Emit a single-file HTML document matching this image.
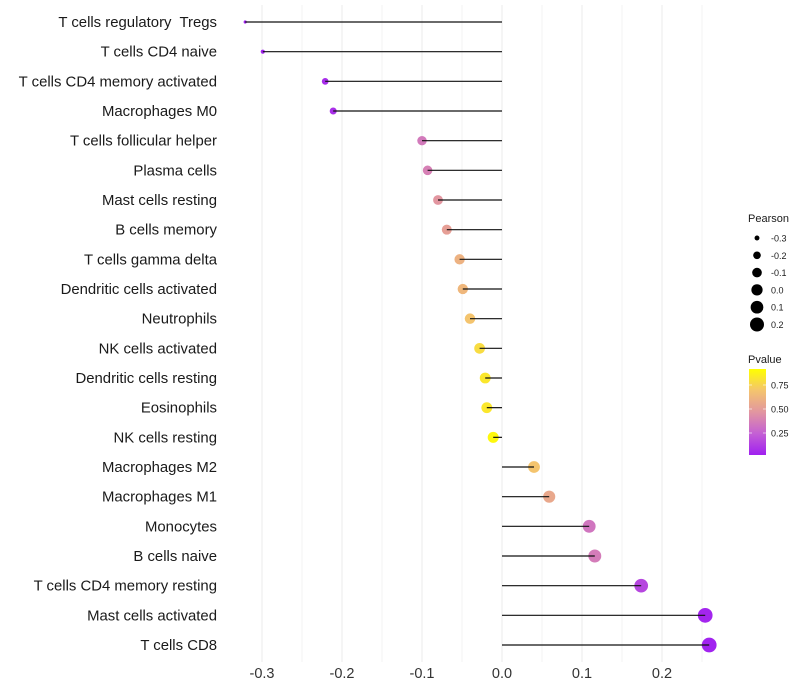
<!DOCTYPE html>
<html><head><meta charset="utf-8"><style>
body{margin:0;background:#fff;}
svg{display:block;font-family:"Liberation Sans",sans-serif;}
text{white-space:pre;}
</style></head><body>
<svg id="chart" width="800" height="700"></svg>
<script>
const categories=["T cells regulatory  Tregs","T cells CD4 naive","T cells CD4 memory activated","Macrophages M0","T cells follicular helper","Plasma cells","Mast cells resting","B cells memory","T cells gamma delta","Dendritic cells activated","Neutrophils","NK cells activated","Dendritic cells resting","Eosinophils","NK cells resting","Macrophages M2","Macrophages M1","Monocytes","B cells naive","T cells CD4 memory resting","Mast cells activated","T cells CD8"];
const pearson=[-0.321,-0.299,-0.221,-0.211,-0.100,-0.093,-0.080,-0.069,-0.053,-0.049,-0.040,-0.028,-0.021,-0.019,-0.011,0.040,0.059,0.109,0.116,0.174,0.254,0.259];
const pvalue=[0.0,0.01,0.05,0.06,0.37,0.40,0.50,0.55,0.65,0.68,0.75,0.85,0.90,0.90,0.97,0.75,0.60,0.35,0.38,0.15,0.02,0.01];
const xTicks=[-0.3,-0.2,-0.1,0.0,0.1,0.2];
const xTickLabels=["-0.3","-0.2","-0.1","0.0","0.1","0.2"];
const sizeLegendVals=[-0.3,-0.2,-0.1,0.0,0.1,0.2];
const sizeLegendLabels=["-0.3","-0.2","-0.1","0.0","0.1","0.2"];
const pTicks=[0.25,0.5,0.75];
const pTickLabels=["0.25","0.50","0.75"];

const NS="http://www.w3.org/2000/svg";
const svg=document.getElementById('chart');
function mk(tag,attrs,parent){const e=document.createElementNS(NS,tag);for(const k in attrs)e.setAttribute(k,attrs[k]);(parent||svg).appendChild(e);return e;}
const x=v=>502+v*800;
const y=i=>22+i*(623/21);
const r=v=>Math.sqrt(Math.max(2.5,2.5+(v+0.32)*90));
const stops=[[0,[160,32,240]],[0.25,[196,96,212]],[0.5,[226,150,160]],[0.75,[244,196,110]],[1,[255,255,0]]];
function col(p){for(let i=1;i<stops.length;i++){if(p<=stops[i][0]){const a=stops[i-1],b=stops[i];const t=(p-a[0])/(b[0]-a[0]);const c=a[1].map((v,j)=>Math.round(v+(b[1][j]-v)*t));return `rgb(${c})`;}}return 'rgb(255,255,0)';}

for(let v=-0.3;v<=0.251;v+=0.05){
  const g=mk('line',{x1:x(v),x2:x(v),y1:5,y2:662,stroke:'#ebebeb','stroke-width':Math.abs(Math.round(v*100))%10===0?1:0.6});
  
  
}
categories.forEach((c,i)=>{
  const t=mk('text',{x:217,y:y(i)+5,'text-anchor':'end','font-size':14.9,fill:'#1a1a1a'});
  t.textContent=c;
  
  
  const pt=mk('circle',{cx:x(pearson[i]),cy:y(i),r:r(pearson[i]),fill:col(pvalue[i])});
  
  
  const ln=mk('line',{x1:x(0),x2:x(pearson[i]),y1:y(i),y2:y(i),stroke:'#111','stroke-width':1.2});
  
  
});
xTicks.forEach((v,i)=>{
  const t=mk('text',{x:x(v),y:678,'text-anchor':'middle','font-size':14.5,fill:'#333'});
  t.textContent=xTickLabels[i];
  
  
});
const lt=mk('text',{x:748,y:222,'font-size':11,fill:'#1a1a1a'});lt.textContent='Pearson';


sizeLegendVals.forEach((v,i)=>{
  const cy=238+i*17.3;
  const c=mk('circle',{cx:757,cy:cy,r:Math.sqrt(6+(v+0.3)*86),fill:'#000'});
  
  
  const t=mk('text',{x:771,y:cy+3.5,'font-size':9,fill:'#1a1a1a'});t.textContent=sizeLegendLabels[i];
  
  
});
const pt2=mk('text',{x:748,y:363,'font-size':11,fill:'#1a1a1a'});pt2.textContent='Pvalue';


const defs=mk('defs',{});
const lg=mk('linearGradient',{id:'pg',x1:0,y1:1,x2:0,y2:0},defs);
stops.forEach(s=>mk('stop',{offset:s[0],'stop-color':`rgb(${s[1]})`},lg));
const bar=mk('rect',{x:749,y:369,width:17,height:86,fill:'url(#pg)'});


const py=p=>457-p*96;
pTicks.forEach((p,i)=>{
  mk('line',{x1:749,x2:752,y1:py(p),y2:py(p),stroke:'#fff','stroke-opacity':0.6});
  mk('line',{x1:763,x2:766,y1:py(p),y2:py(p),stroke:'#fff','stroke-opacity':0.6});
  const t=mk('text',{x:771,y:py(p)+3.5,'font-size':9,fill:'#1a1a1a'});t.textContent=pTickLabels[i];
  
  
});
</script>
</body></html>
